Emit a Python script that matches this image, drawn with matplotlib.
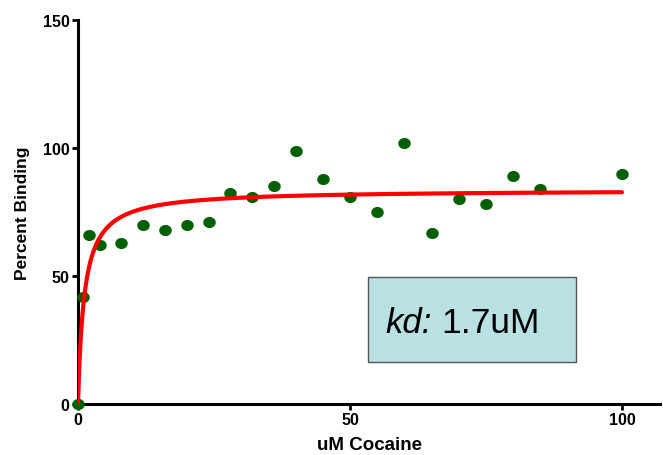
import matplotlib

matplotlib.use("Agg")
import matplotlib.pyplot as plt
import numpy as np
from matplotlib.patches import Rectangle

plt.rcParams["font.family"] = ["Liberation Sans", "DejaVu Sans"]

conc_um = [0, 1, 2, 4, 8, 12, 16, 20, 24, 28, 32, 36, 40, 45, 50, 55, 60, 65, 70, 75, 80, 85, 100]
pct_binding = [0, 42, 66, 62, 63, 70, 68, 70, 71, 82.5, 81, 85, 99, 88, 81, 75, 102, 67, 80, 78, 89, 84, 90]

# one-site fit as drawn
fit_bmax = 83.7
fit_kd = 1.15
kd_label = "1.7uM"

fig = plt.figure(figsize=(6.63, 4.56), dpi=100)
ax = fig.add_axes([0.1176, 0.1118, 0.878, 0.842])

xfit = np.linspace(0, 100, 600)
yfit = fit_bmax * xfit / (fit_kd + xfit)

# slightly wide dots, like the original export
t = np.linspace(0, 2 * np.pi, 40)
dot = np.column_stack([1.15 * np.cos(t), np.sin(t)])

ax.plot(conc_um, pct_binding, linestyle="none", marker=dot, color="#006000",
        markersize=8, clip_on=False, zorder=3)
ax.plot(xfit, yfit, color="#ff0000", linewidth=3, zorder=4, solid_capstyle="round")

ax.set_xlim(0, 107)
ax.set_ylim(0, 150)
ax.set_xticks([0, 50, 100])
ax.set_yticks([0, 50, 100, 150])

for side in ("top", "right"):
    ax.spines[side].set_visible(False)
for side in ("left", "bottom"):
    ax.spines[side].set_linewidth(2.2)

ax.tick_params(width=2, length=4, labelsize=11.5, pad=2)
for lbl in ax.get_xticklabels() + ax.get_yticklabels():
    lbl.set_fontweight("bold")

ax.set_xlabel("uM Cocaine", fontsize=13.5, fontweight="bold", labelpad=6)
ax.set_ylabel("Percent Binding", fontsize=12.5, fontweight="bold", labelpad=9)

# kd box
W, H = 663, 456
fig.patches.append(Rectangle((368 / W, 1 - 363 / H), 208 / W, 85 / H,
                             transform=fig.transFigure, facecolor="#b9e0e3",
                             edgecolor="#555555", linewidth=1, zorder=5))
fig.text(385 / W, 1 - 333 / H, "kd:", fontsize=25, style="italic", zorder=6)
fig.text(441 / W, 1 - 333 / H, kd_label, fontsize=25.5, zorder=6)

fig.savefig("out.png", dpi=100)
